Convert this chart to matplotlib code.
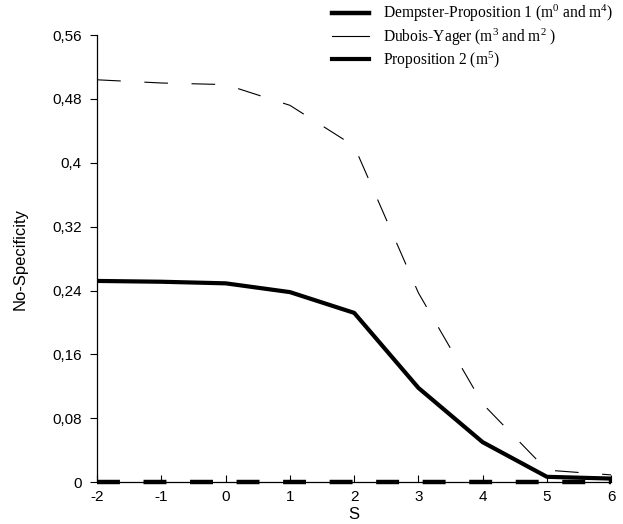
import matplotlib
matplotlib.use("Agg")
import matplotlib.pyplot as plt
from matplotlib.lines import Line2D
import numpy as np

# values
s = [-2, -1, 0, 1, 2, 3, 4, 5, 6]
dempster = [0, 0, 0, 0, 0, 0, 0, 0, 0]
dubois = [0.504, 0.500, 0.498, 0.472, 0.421, 0.237, 0.098, 0.015, 0.009]
prop2 = [0.252, 0.251, 0.249, 0.238, 0.212, 0.118, 0.050, 0.0066, 0.0044]

yticks = [0, 0.08, 0.16, 0.24, 0.32, 0.4, 0.48, 0.56]
ytick_labels = ["0", "0,08", "0,16", "0,24", "0,32", "0,4", "0,48", "0,56"]

lab_dempster = r"Dempster-Proposition 1 (m$^{0}$ and m$^{4}$)"
lab_dubois = r"Dubois-Yager (m$^{3}$ and m$^{2}$ )"
lab_prop2 = r"Proposition 2 (m$^{5}$)"

plt.rcParams["lines.scale_dashes"] = False
plt.rcParams["font.family"] = ["Liberation Sans", "DejaVu Sans"]
plt.rcParams["mathtext.fontset"] = "custom"
plt.rcParams["mathtext.rm"] = "Liberation Serif"
plt.rcParams["mathtext.it"] = "Liberation Serif"
plt.rcParams["mathtext.default"] = "rm"

fig = plt.figure(figsize=(6.23, 5.24), dpi=100)
ax = fig.add_axes([0.156, 0.080, 0.825, 0.853])

ax.plot(s, dempster, color="black", lw=3.2, dashes=(16.5, 17), clip_on=False, zorder=3)
ax.plot(s, dubois, color="black", lw=0.8, dashes=(17, 17))
ax.plot(s, prop2, color="black", lw=3.0, solid_joinstyle="round")

ax.set_xlim(-2, 6)
ax.set_ylim(0, 0.56)
ax.set_xticks(s)
ax.set_xticklabels([str(v) for v in s])
ax.set_yticks(yticks)
ax.set_yticklabels(ytick_labels)

for side in ["top", "right"]:
    ax.spines[side].set_visible(False)
for side in ["left", "bottom"]:
    ax.spines[side].set_linewidth(0.9)

ax.tick_params(axis="x", direction="in", length=5, width=0.8, labelsize=11, pad=6)
ax.tick_params(axis="y", direction="out", length=5, width=0.8, labelsize=11, pad=6)

ax.set_xlabel("S", fontsize=12, labelpad=2)
ax.set_ylabel("No-Specificity", fontsize=12, labelpad=18)

# legend handles: one dash per entry as in the original
handles = [
    Line2D([], [], color="black", lw=3.2),
    Line2D([], [], color="black", lw=0.8),
    Line2D([], [], color="black", lw=3.0),
]
fig.legend(handles, [lab_dempster, lab_dubois, lab_prop2],
           loc="upper right", bbox_to_anchor=(1.0, 1.012), frameon=False,
           prop={"family": ["Liberation Serif", "DejaVu Serif"], "size": 11.2},
           handlelength=2.4, handletextpad=0.9, labelspacing=0.12,
           borderaxespad=0.2)

fig.savefig("out.png", dpi=100)
